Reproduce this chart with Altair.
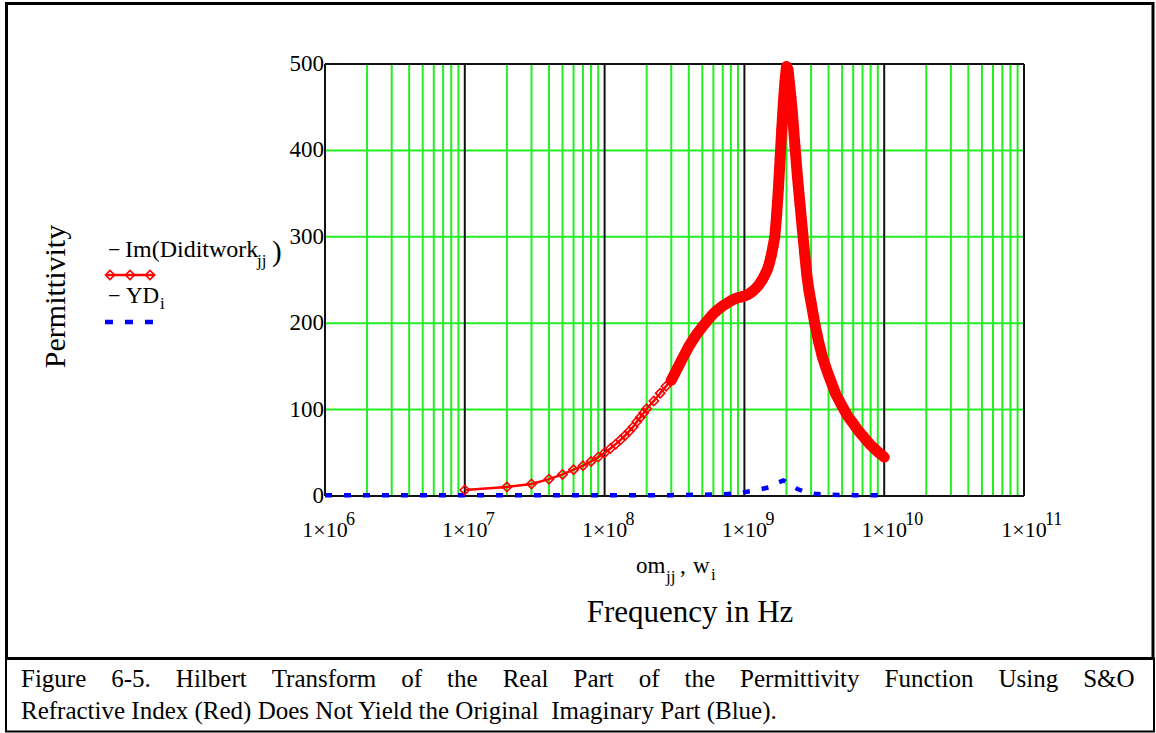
import altair as alt
import pandas as pd

FONT = "Liberation Serif"
GREEN = "#22ee22"

# ---- red series: Im(Diditwork_jj) against om_jj (Hz)
om_jj = [1e7, 2e7, 3e7, 4e7, 5e7, 6e7, 7e7, 8e7, 9e7,
         1.0e8, 1.1e8, 1.2e8, 1.3e8, 1.4e8, 1.5e8, 1.6e8, 1.7e8, 1.8e8, 1.9e8,
         2.0e8, 2.25e8, 2.5e8, 2.75e8, 3.0e8, 3.5e8, 4.0e8, 4.5e8, 5.0e8, 5.5e8,
         6.0e8, 6.5e8, 7.0e8, 7.5e8, 8.0e8, 8.5e8, 9.0e8, 9.5e8,
         1.0e9, 1.05e9, 1.1e9, 1.15e9, 1.2e9, 1.25e9, 1.3e9, 1.35e9, 1.4e9, 1.45e9,
         1.5e9, 1.55e9, 1.6e9, 1.65e9, 1.7e9, 1.75e9, 1.8e9, 1.85e9, 1.9e9, 1.95e9,
         2.0e9, 2.05e9, 2.1e9, 2.15e9, 2.2e9, 2.3e9, 2.4e9, 2.5e9, 2.6e9, 2.7e9,
         2.8e9, 2.9e9, 3.0e9, 3.2e9, 3.4e9, 3.6e9, 3.8e9, 4.0e9, 4.5e9, 5.0e9,
         5.5e9, 6.0e9, 6.5e9, 7.0e9, 7.5e9, 8.0e9, 8.5e9, 9.0e9, 9.5e9, 1.0e10]
im_diditwork = [7, 10.5, 14, 19.5, 25, 30.5, 35, 40, 45,
                50, 55, 60, 65, 70, 75, 80, 86, 91, 96,
                101, 110, 119, 127, 134, 155, 173, 186, 196, 204,
                211, 216, 220, 223, 226, 228, 229.5, 230.5,
                231.5, 233, 235, 237, 240, 243, 247, 251, 256, 261,
                268, 277, 288, 300, 325, 355, 390, 425, 455, 480,
                497, 494, 478, 462, 445, 405, 368, 337, 308, 280,
                255, 237, 224, 198, 178, 162, 150, 140, 118, 104,
                92, 84, 76, 70, 64, 59, 55, 51, 48, 45]

# ---- blue series: YD_i against w_i (Hz)
w_i = [1e6, 3e6, 1e7, 3e7, 1e8, 3e8, 5e8, 7e8, 8.5e8, 1.0e9, 1.2e9, 1.5e9,
       1.7e9, 1.9e9, 2.1e9, 2.4e9, 2.8e9, 3.2e9, 4e9, 6e9, 1e10]
yd_i = [1, 1, 1, 1, 1, 1, 1.5, 2, 3, 4.5, 6.5, 10,
        15, 18, 14, 8, 4, 2.5, 1.5, 1, 1]

# ---- axes
decades = [1e6, 1e7, 1e8, 1e9, 1e10, 1e11]
decade_exp = ["6", "7", "8", "9", "10", "11"]
minor = [k * d for d in decades[:-1] for k in range(2, 10)]
y_ticks = [0, 100, 200, 300, 400, 500]
y_grid = [100, 200, 300, 400]

W, H = 699, 432
xs = alt.Scale(type="log", domain=[1e6, 1e11], nice=False)
ys = alt.Scale(domain=[0, 500], nice=False)

red = pd.DataFrame({"f": om_jj, "v": im_diditwork})
blue = pd.DataFrame({"f": w_i, "v": yd_i})
dec = pd.DataFrame({"f": decades, "lab": ["1×10"] * len(decades), "exp": decade_exp})
yt = pd.DataFrame({"v": y_ticks, "lab": [str(v) for v in y_ticks]})
one = pd.DataFrame({"a": [0]})

X = alt.X("f:Q", scale=xs, axis=None)
Y = alt.Y("v:Q", scale=ys, axis=None)

layers = []

# grid
layers.append(alt.Chart(pd.DataFrame({"f": minor})).mark_rule(color=GREEN, strokeWidth=2).encode(x=X))
layers.append(alt.Chart(pd.DataFrame({"v": y_grid})).mark_rule(color=GREEN, strokeWidth=2).encode(y=Y))
layers.append(alt.Chart(pd.DataFrame({"f": decades})).mark_rule(color="#111111", strokeWidth=2).encode(x=X))
layers.append(alt.Chart(pd.DataFrame({"v": [0, 500]})).mark_rule(color="#111111", strokeWidth=2).encode(y=Y))

# blue dashed
layers.append(alt.Chart(blue).mark_line(color="#0000ff", strokeWidth=4.5, strokeDash=[7, 12],
                                        strokeCap="butt").encode(x=X, y=Y))

# red line with diamonds
layers.append(alt.Chart(red).mark_line(color="#ff0000", strokeWidth=2.5).encode(x=X, y=Y))
layers.append(alt.Chart(red).transform_filter("datum.f >= 3e8").mark_line(
    color="#ff0000", strokeWidth=11, strokeJoin="round", strokeCap="round").encode(x=X, y=Y))
layers.append(alt.Chart(red).mark_point(shape="diamond", size=85, color="#ff0000", filled=False,
                                        strokeWidth=1.6, opacity=1).encode(x=X, y=Y))

# y tick labels
layers.append(alt.Chart(yt).mark_text(font=FONT, fontSize=23, align="right", baseline="middle",
                                      dx=-1, color="black").encode(
    x=alt.value(0), y=Y, text="lab:N"))

# x tick labels  1×10^n
layers.append(alt.Chart(dec).mark_text(font=FONT, fontSize=22, align="center", baseline="alphabetic",
                                       color="black").encode(
    x=X, y=alt.value(472.7), text="lab:N"))
layers.append(alt.Chart(dec).mark_text(font=FONT, fontSize=18, align="left", baseline="alphabetic",
                                       dx=21, color="black").encode(
    x=X, y=alt.value(461), text="exp:N"))


def txt(s, x, y, size=22, align="left", angle=0):
    kw = dict(font=FONT, fontSize=size, align=align, baseline="alphabetic", color="black")
    if angle:
        kw["angle"] = angle
    return alt.Chart(one).mark_text(**kw).encode(
        x=alt.value(x), y=alt.value(y), text=alt.value(s))


# axis titles
layers.append(txt("om", 311, 509, size=23))
layers.append(txt("jj", 341, 518, size=17))
layers.append(txt(",", 355, 509, size=23))
layers.append(txt("w", 368, 509, size=23))
layers.append(txt("i", 386, 516, size=17))
layers.append(txt("Frequency in Hz", 365, 558, size=31, align="center"))
layers.append(txt("Permittivity", -260, 232.5, size=30, align="center", angle=270))

# legend
layers.append(txt("−", -217, 193, size=22))
layers.append(txt("Im(Diditwork", -200, 193, size=24))
layers.append(txt("jj", -68, 202, size=17))
layers.append(txt(")", -53, 197, size=29))
layers.append(alt.Chart(one).mark_rule(color="#ff0000", strokeWidth=2.5).encode(
    x=alt.value(-218), x2=alt.value(-170), y=alt.value(211)))
for px in (-215, -195, -175):
    layers.append(alt.Chart(one).mark_point(shape="diamond", size=85, color="#ff0000", filled=False,
                                            strokeWidth=1.6, opacity=1).encode(
        x=alt.value(px), y=alt.value(211)))
layers.append(txt("−", -217, 239, size=22))
layers.append(txt("YD", -199, 239, size=23))
layers.append(txt("i", -165, 245, size=17))
layers.append(alt.Chart(one).mark_rule(color="#0000ff", strokeWidth=4.5, strokeDash=[8, 12],
                                       strokeCap="butt").encode(
    x=alt.value(-220), x2=alt.value(-172), y=alt.value(258)))

# caption (first line justified as in the original)
gap = "\u00a0" * 4
line1_words = ["Figure", "6-5.", "Hilbert", "Transform", "of", "the", "Real", "Part", "of", "the",
               "Permittivity", "Function", "Using", "S&O"]
layers.append(txt(gap.join(line1_words), -304, 623, size=25))
layers.append(txt("Refractive Index (Red) Does Not Yield the Original\u00a0 Imaginary Part (Blue).",
                  -304, 655, size=25))

# boxes
layers.append(alt.Chart(one).mark_rect(fillOpacity=0, stroke="black", strokeWidth=3).encode(
    x=alt.value(-318.5), x2=alt.value(828), y=alt.value(-60.5), y2=alt.value(594.5)))
layers.append(alt.Chart(one).mark_rect(fillOpacity=0, stroke="black", strokeWidth=2).encode(
    x=alt.value(-319), x2=alt.value(829), y=alt.value(594.5), y2=alt.value(667.5)))

chart = alt.layer(*layers).properties(
    width=W, height=H,
    padding={"left": 325, "top": 64, "right": 132, "bottom": 237},
    autosize=alt.AutoSizeParams(type="none"),
    background="white",
).configure_view(strokeWidth=0)

chart.save("out.html", embed_options={"renderer": "svg", "actions": False})
